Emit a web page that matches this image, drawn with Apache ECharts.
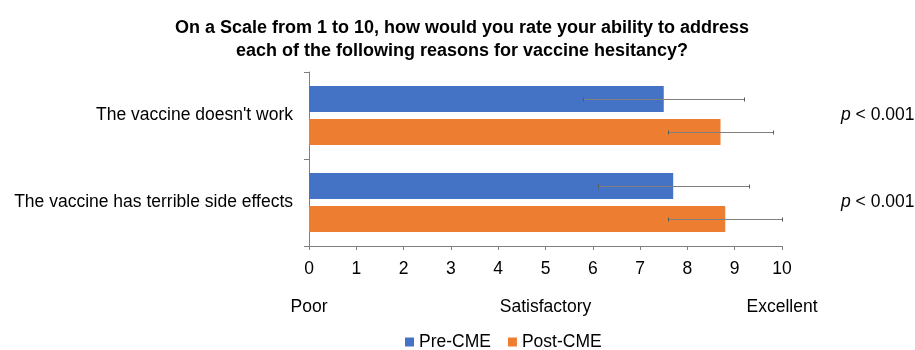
<!DOCTYPE html>
<html>
<head>
<meta charset="utf-8">
<title>Vaccine hesitancy ratings</title>
<script src="https://cdn.jsdelivr.net/npm/echarts@6/dist/echarts.min.js"></script>
<style>
  html, body { margin: 0; padding: 0; background: #fff; }
  #chart { width: 915px; height: 350px; }
</style>
</head>
<body>
<div id="chart"></div>
<script>
// Survey reasons (top to bottom)
const categories = ["The vaccine doesn't work", "The vaccine has terrible side effects"];
// Mean self-rating on a 1-10 scale and standard deviation
const preMean = [7.5, 7.7];
const preSD = [1.7, 1.6];
const postMean = [8.7, 8.8];
const postSD = [1.1, 1.2];
// Significance label for each reason
const pValues = ['< 0.001', '< 0.001'];
// Verbal anchors on the rating axis
const scaleLabels = { 0: 'Poor', 5: 'Satisfactory', 10: 'Excellent' };

const FONT = 'Liberation Sans, Arial, sans-serif';
const FS = 17.5;      // body text size
const BAR_W = 0.30;   // share of a category band per bar
const GAP = 0.27;     // gap between bars, share of a bar width

function errorBars(means, sds, sign) {
  return {
    type: 'custom',
    yAxisIndex: 0,
    xAxisIndex: 0,
    silent: true,
    z: 5,
    data: means.map((m, i) => [m - sds[i], m + sds[i], i]),
    renderItem: function (params, api) {
      const band = api.size([0, 1])[1];
      const off = sign * band * BAR_W * (1 + GAP) / 2;
      const lo = api.coord([api.value(0), api.value(2)]);
      const hi = api.coord([api.value(1), api.value(2)]);
      const y = Math.round(lo[1] + off) + 0.5;
      const x1 = Math.round(lo[0]) + 0.5, x2 = Math.round(hi[0]) + 0.5;
      const cap = { stroke: '#595959', lineWidth: 1 };
      return {
        type: 'group',
        children: [
          { type: 'line', shape: { x1: x1, y1: y, x2: x2, y2: y }, style: { stroke: '#7f7f7f', lineWidth: 1 } },
          { type: 'line', shape: { x1: x1, y1: y - 2, x2: x1, y2: y + 2 }, style: cap },
          { type: 'line', shape: { x1: x2, y1: y - 2, x2: x2, y2: y + 2 }, style: cap }
        ]
      };
    }
  };
}

const chart = echarts.init(document.getElementById('chart'), null, { renderer: 'canvas' });

chart.setOption({
  animation: false,
  textStyle: { fontFamily: FONT },
  title: {
    text: 'On a Scale from 1 to 10, how would you rate your ability to address\neach of the following reasons for vaccine hesitancy?',
    left: 457,
    textAlign: 'center',
    top: 11,
    textStyle: { fontSize: 18, fontWeight: 'bold', color: '#000', lineHeight: 23.5, fontFamily: FONT }
  },
  legend: {
    data: ['Pre-CME', 'Post-CME'],
    left: 405,
    top: 333,
    padding: 0,
    icon: 'rect',
    itemWidth: 9,
    itemHeight: 9,
    itemGap: 17,
    textStyle: { fontSize: FS, color: '#000', fontFamily: FONT }
  },
  grid: { left: 309, right: 133, top: 72, bottom: 104, containLabel: false, outerBoundsMode: 'none' },
  xAxis: [
    {
      type: 'value', min: 0, max: 10, interval: 1,
      axisLine: { show: true, lineStyle: { color: '#7f7f7f' } },
      axisTick: { show: true, length: 4, lineStyle: { color: '#7f7f7f' } },
      splitLine: { show: false },
      axisLabel: { fontSize: FS, color: '#000', margin: 14, fontFamily: FONT }
    },
    {
      type: 'value', min: 0, max: 10, interval: 5, position: 'bottom', offset: 38,
      axisLine: { show: false }, axisTick: { show: false }, splitLine: { show: false },
      axisLabel: {
        fontSize: FS, color: '#000', margin: 14, fontFamily: FONT,
        formatter: v => scaleLabels[v] || ''
      }
    }
  ],
  yAxis: [
    {
      type: 'category', data: categories, inverse: true,
      axisLine: { show: true, lineStyle: { color: '#7f7f7f' } },
      axisTick: { show: true, length: 5, lineStyle: { color: '#7f7f7f' } },
      axisLabel: { fontSize: FS, color: '#000', margin: 16, fontFamily: FONT }
    },
    {
      type: 'category', data: categories, inverse: true, position: 'right',
      axisLine: { show: false }, axisTick: { show: false },
      axisLabel: {
        margin: 59, fontSize: FS, color: '#000', fontFamily: FONT,
        formatter: (v, i) => '{i|p} ' + pValues[i],
        rich: { i: { fontStyle: 'italic', fontSize: FS, color: '#000', fontFamily: FONT } }
      }
    }
  ],
  series: [
    {
      name: 'Pre-CME', type: 'bar', data: preMean,
      barWidth: (BAR_W * 100) + '%', barGap: (GAP * 100) + '%',
      itemStyle: { color: '#4472C4' }
    },
    {
      name: 'Post-CME', type: 'bar', data: postMean,
      barWidth: (BAR_W * 100) + '%', barGap: (GAP * 100) + '%',
      itemStyle: { color: '#ED7D31' }
    },
    errorBars(preMean, preSD, -1),
    errorBars(postMean, postSD, 1)
  ]
});
</script>
</body>
</html>
